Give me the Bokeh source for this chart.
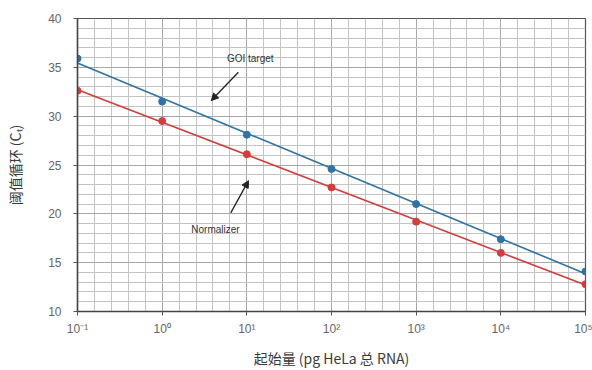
import numpy as np
from bokeh.plotting import figure
from bokeh.models import FixedTicker, Arrow, NormalHead, Label
from bokeh.embed import file_html
from bokeh.resources import INLINE

# Starting amount (pg HeLa total RNA), as powers of ten
log_amount = [-1, 0, 1, 2, 3, 4, 5]
tick_labels = ["10⁻¹", "10⁰", "10¹", "10²", "10³", "10⁴", "10⁵"]

# Threshold cycle values for each assay
goi_ct = [35.9, 31.5, 28.1, 24.6, 21.0, 17.4, 14.1]
norm_ct = [32.6, 29.5, 26.1, 22.7, 19.2, 16.0, 12.8]

blue = "#2f73a6"
red = "#d63c3c"

p = figure(width=592, height=370, output_backend="svg", toolbar_location=None,
           x_range=(-1, 5), y_range=(10, 40))
p.min_border_left = 77
p.min_border_right = 7
p.min_border_top = 18
p.min_border_bottom = 56
p.background_fill_color = "white"
p.border_fill_color = "white"
p.outline_line_color = "#555555"
p.outline_line_width = 1.2

# grid: 0.2-decade columns, 1-cycle rows
xt = FixedTicker(ticks=log_amount, minor_ticks=list(np.round(np.arange(-1, 5.01, 0.2), 2)))
yt = FixedTicker(ticks=[10, 15, 20, 25, 30, 35, 40], minor_ticks=list(range(10, 41)))
p.xaxis.ticker = xt
p.yaxis.ticker = yt
p.xaxis.major_label_overrides = {v: t for v, t in zip(log_amount, tick_labels)}

for g in (p.xgrid, p.ygrid):
    g.grid_line_color = "#a8a8a8"
    g.grid_line_width = 1
    g.minor_grid_line_color = "#c4c4c4"
    g.minor_grid_line_width = 1

for ax in (p.xaxis, p.yaxis):
    ax.axis_line_color = "#444444"
    ax.axis_line_width = 1.5
    ax.major_tick_line_color = "#555555"
    ax.major_tick_in = 0
    ax.major_tick_out = 4
    ax.minor_tick_line_color = None
    ax.major_label_text_font = "Liberation Sans"
    ax.major_label_text_font_size = "12px"
    ax.major_label_text_color = "#666666"
    ax.axis_label_text_font = "Noto Sans CJK SC"
    ax.axis_label_text_font_size = "14px"
    ax.axis_label_text_font_style = "normal"
    ax.axis_label_text_color = "#3a3a3a"

p.yaxis.major_label_standoff = 12
p.xaxis.major_label_standoff = 6
p.yaxis.axis_label = "阈值循环 (Cₜ)"
p.xaxis.axis_label = "起始量 (pg HeLa 总 RNA)"
p.yaxis.axis_label_standoff = 20
p.xaxis.axis_label_standoff = 9

# least-squares trend lines through each series
xs = np.array(log_amount, dtype=float)
for ct, color in ((goi_ct, blue), (norm_ct, red)):
    k, b = np.polyfit(xs, np.array(ct), 1)
    p.line([xs[0], xs[-1]], [k * xs[0] + b, k * xs[-1] + b], line_color=color, line_width=1.6)
    p.scatter(xs, ct, size=7, fill_color=color, line_color=color)

# annotations
p.add_layout(Label(x=1.04, y=35.9, text="GOI target", text_align="center", text_baseline="middle",
                   text_font="Liberation Sans", text_font_size="10px", text_color="#333333"))
p.add_layout(Arrow(x_start=0.90, y_start=34.5, x_end=0.58, y_end=31.6,
                   line_color="#222222", line_width=1.3,
                   end=NormalHead(size=7, fill_color="#222222", line_color="#222222")))
p.add_layout(Label(x=0.63, y=18.4, text="Normalizer", text_align="center", text_baseline="middle",
                   text_font="Liberation Sans", text_font_size="10px", text_color="#333333"))
p.add_layout(Arrow(x_start=0.81, y_start=20.1, x_end=1.02, y_end=23.4,
                   line_color="#222222", line_width=1.3,
                   end=NormalHead(size=7, fill_color="#222222", line_color="#222222")))

open("out.html", "w").write(file_html(p, INLINE))
